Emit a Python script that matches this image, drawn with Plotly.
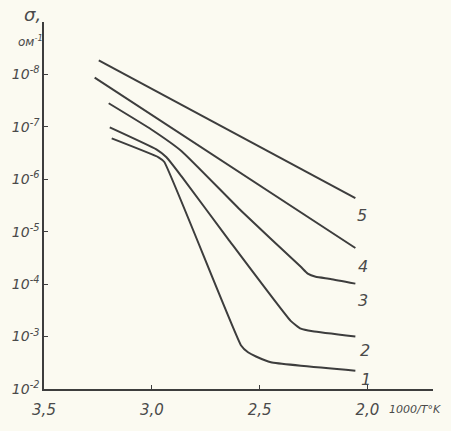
import plotly.graph_objects as go

# 1000/T values and lg(sigma) values
x1 = [3.186, 2.969, 2.942, 2.586, 2.554, 2.517, 2.448, 2.056]
lg1 = [-6.78, -6.42, -6.33, -2.83, -2.70, -2.62, -2.51, -2.35]

x2 = [3.195, 2.979, 2.932, 2.863, 2.646, 2.356, 2.309, 2.254, 2.056]
lg2 = [-6.99, -6.57, -6.42, -6.06, -4.86, -3.30, -3.15, -3.10, -3.00]

x3 = [3.200, 3.002, 2.863, 2.586, 2.309, 2.277, 2.240, 2.171, 2.056]
lg3 = [-7.45, -6.95, -6.54, -5.40, -4.33, -4.20, -4.14, -4.10, -4.01]

x4 = [3.265, 2.056]
lg4 = [-7.94, -4.69]

x5 = [3.246, 2.056]
lg5 = [-8.27, -5.64]

curve_names = ["1", "2", "3", "4", "5"]

xtick_vals = [3.5, 3.0, 2.5, 2.0]
xtick_text = ["3,5", "3,0", "2,5", "2,0"]
ytick_exp = [-8, -7, -6, -5, -4, -3, -2]

series = [(x1, lg1), (x2, lg2), (x3, lg3), (x4, lg4), (x5, lg5)]
label_shift = [(7, -4), (6, -9), (4, -12), (4, -14), (3, -13)]
shapes = ["spline", "spline", "spline", "linear", "linear"]

ink = "#3d3d3d"
txt = "#4a4a4a"
font_it = dict(family="DejaVu Sans", size=15, color=txt, style="italic")

fig = go.Figure()
for (xs, lgs), name, (dx, dy), shp in zip(series, curve_names, label_shift, shapes):
    ys = [10 ** v for v in lgs]
    fig.add_trace(go.Scatter(x=xs, y=ys, mode="lines", name=name,
                             line=dict(color=ink, width=2, shape=shp, smoothing=0.4),
                             showlegend=False, hoverinfo="skip"))
    fig.add_annotation(x=xs[-1], y=lgs[-1], xref="x", yref="y", text=name,
                       showarrow=False, xanchor="left", yanchor="top",
                       xshift=dx - 3, yshift=dy + 7,
                       font=dict(family="DejaVu Sans", size=16, color=txt, style="italic"))

fig.update_layout(
    width=451, height=431,
    margin=dict(l=42, r=18, t=22, b=40),
    paper_bgcolor="#fbfaf1", plot_bgcolor="#fbfaf1",
    xaxis=dict(range=[3.5, 1.696], tickvals=xtick_vals, ticktext=xtick_text,
               showgrid=False, zeroline=False, showline=True, linecolor=ink, linewidth=1.5,
               ticks="inside", ticklen=4, tickcolor=ink, tickfont=font_it,
               ticklabelstandoff=6),
    yaxis=dict(type="log", range=[-2, -9.0],
               tickvals=[10 ** e for e in ytick_exp],
               ticktext=["10<sup>%d</sup>" % e for e in ytick_exp],
               showgrid=False, zeroline=False, showline=True, linecolor=ink, linewidth=1.5,
               ticks="inside", ticklen=4, tickcolor=ink,
               tickfont=dict(family="DejaVu Sans", size=14, color=txt, style="italic")),
)

fig.add_annotation(xref="paper", yref="paper", x=1.0, y=0, xshift=10, yshift=-20,
                   xanchor="right", yanchor="middle",
                   text="1000/T°K", showarrow=False,
                   font=dict(family="DejaVu Sans", size=11, color=txt, style="italic"))
fig.add_annotation(xref="paper", yref="paper", x=0, y=1, xshift=-12, yshift=8,
                   text="σ,", showarrow=False, xanchor="center", yanchor="middle",
                   font=dict(family="DejaVu Sans", size=18, color=txt, style="italic"))
fig.add_annotation(xref="paper", yref="paper", x=0, y=1, xshift=-14, yshift=-19,
                   text="ом<sup>-1</sup>", showarrow=False, xanchor="center", yanchor="middle",
                   font=dict(family="DejaVu Sans", size=12, color=txt, style="italic"))

fig.write_html("out.html")
